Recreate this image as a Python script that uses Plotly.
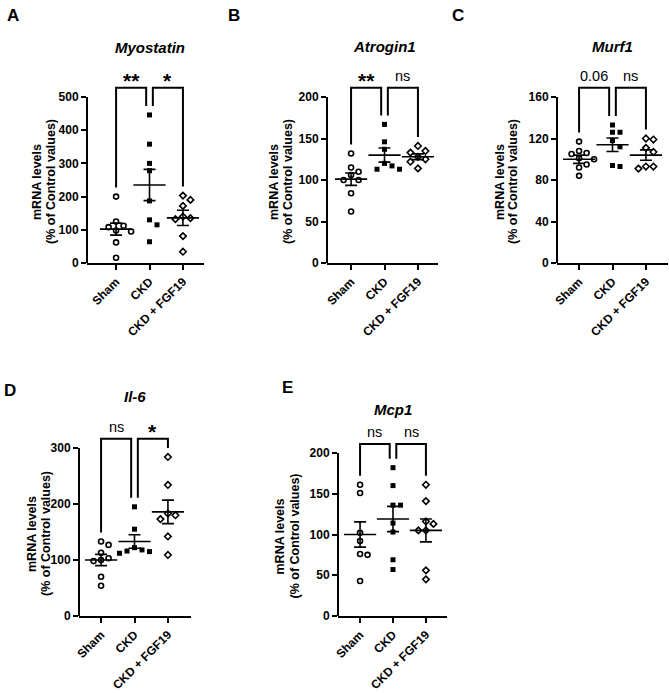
import plotly.graph_objects as go

W, H = 669, 693
FONT = "Arial, 'Liberation Sans', sans-serif"

groups = ["Sham", "CKD", "CKD + FGF19"]

# values (% of control)
myostatin_sham = [200, 125, 112, 108, 98, 95, 62, 16]
myostatin_ckd = [446, 358, 300, 278, 187, 130, 115, 64]
myostatin_fgf19 = [203, 190, 172, 140, 135, 132, 81, 34]
myostatin_mean = [102, 235, 136]
myostatin_sem = [18, 47, 23]

atrogin1_sham = [132, 115, 110, 106, 100, 100, 84, 62]
atrogin1_ckd = [167, 146, 137, 120, 117, 113, 113]
atrogin1_fgf19 = [141, 135, 133, 128, 125, 122, 114]
atrogin1_mean = [101, 130, 128]
atrogin1_sem = [7.5, 8.5, 3.5]

murf1_sham = [117, 108, 106, 105, 101, 100, 95, 92, 84]
murf1_ckd = [133, 126, 126, 118, 112, 94, 93]
murf1_fgf19 = [120, 119, 111, 107, 93, 93, 91]
murf1_mean = [100, 114, 104]
murf1_sem = [4, 6.5, 5]

il6_sham = [133, 127, 113, 103, 100, 98, 70, 54]
il6_ckd = [195, 155, 122, 118, 116, 115, 112]
il6_fgf19 = [284, 234, 183, 180, 173, 142, 109]
il6_mean = [100, 133, 186]
il6_sem = [10, 12, 21]

mcp1_sham = [161, 151, 102, 92, 76, 75, 43]
mcp1_ckd = [182, 160, 136, 136, 114, 103, 69, 57]
mcp1_fgf19 = [161, 141, 116, 113, 105, 105, 56, 45]
mcp1_mean = [100, 119, 105]
mcp1_sem = [15.5, 15.5, 14]

titles = ["Myostatin", "Atrogin1", "Murf1", "Il-6", "Mcp1"]
letters = ["A", "B", "C", "D", "E"]
sig_labels = [["**", "*"], ["**", "ns"], ["0.06", "ns"], ["ns", "*"], ["ns", "ns"]]
y_max = [500, 200, 160, 300, 200]
y_step = [100, 50, 40, 100, 50]

data = [
    (myostatin_sham, myostatin_ckd, myostatin_fgf19, myostatin_mean, myostatin_sem),
    (atrogin1_sham, atrogin1_ckd, atrogin1_fgf19, atrogin1_mean, atrogin1_sem),
    (murf1_sham, murf1_ckd, murf1_fgf19, murf1_mean, murf1_sem),
    (il6_sham, il6_ckd, il6_fgf19, il6_mean, il6_sem),
    (mcp1_sham, mcp1_ckd, mcp1_fgf19, mcp1_mean, mcp1_sem),
]

# pixel layout of each panel: axis left/right, y=0 row, top tick row, x range,
# title row, letter pos, y-title column centres
panels = [
    dict(x0=87, x1=204, y0=263, yt=97, xr=(-0.87, 2.63), tpy=48, let=(13, 15), cols=(37, 51)),
    dict(x0=327, x1=438, y0=263, yt=97, xr=(-0.72, 2.60), tpy=46, let=(234, 15), cols=(274, 288)),
    dict(x0=557, x1=668, y0=263, yt=97, xr=(-0.66, 2.66), tpy=46, let=(458, 15), cols=(500, 513)),
    dict(x0=79, x1=191, y0=616, yt=448, xr=(-0.66, 2.69), tpy=396, let=(10, 390), cols=(32, 46)),
    dict(x0=338, x1=447, y0=616, yt=453, xr=(-0.67, 2.64), tpy=409, let=(287, 387), cols=(279, 294)),
]

symbols = [
    dict(symbol="circle-open", size=5, line=dict(width=1.6, color="black"), color="black"),
    dict(symbol="square", size=5, color="black"),
    dict(symbol="diamond-open", size=5, line=dict(width=1.6, color="black"), color="black"),
]


def swarm(vals, ppu_y, ppu_x, dmin=7.0, step=7.5):
    placed = []
    res = [0.0] * len(vals)
    order = sorted(range(len(vals)), key=lambda i: -vals[i])
    for i in order:
        y = vals[i] * ppu_y
        x = 0.0
        for c in [0, 1, -1, 2, -2, 3, -3, 4, -4]:
            x = c * step
            if all((x - px) ** 2 + (y - py) ** 2 >= dmin ** 2 for px, py in placed):
                break
        placed.append((x, y))
        res[i] = x / ppu_x
    return res


fig = go.Figure()
layout = dict(width=W, height=H, margin=dict(l=0, r=0, t=0, b=0, autoexpand=False),
              paper_bgcolor="white", plot_bgcolor="white", showlegend=False,
              font=dict(family=FONT, color="black"))
annotations = []
shapes = []

for k, (p, d) in enumerate(zip(panels, data)):
    n = "" if k == 0 else str(k + 1)
    xa, ya = "x" + n, "y" + n
    ymax = y_max[k]
    ppu_y = (p["y0"] - p["yt"]) / ymax
    ppu_x = (p["x1"] - p["x0"]) / (p["xr"][1] - p["xr"][0])
    ytop_val = 1.2 * ymax
    top_px = p["y0"] - ytop_val * ppu_y

    layout["xaxis" + n] = dict(
        domain=[p["x0"] / W, p["x1"] / W], range=list(p["xr"]), anchor=ya,
        tickvals=[0, 1, 2], ticktext=groups, tickangle=-45, automargin=False,
        showline=True, linewidth=2, linecolor="black", mirror=False,
        ticks="outside", ticklen=5, tickwidth=2, tickcolor="black",
        showgrid=False, zeroline=False, fixedrange=True,
        tickfont=dict(family=FONT, size=12, weight="bold", color="black"))
    layout["yaxis" + n] = dict(
        domain=[1 - p["y0"] / H, 1 - top_px / H], range=[0, ytop_val], anchor=xa,
        tickvals=list(range(0, ymax + 1, y_step[k])), automargin=False,
        showline=False, ticks="outside", ticklen=5, tickwidth=2, tickcolor="black",
        showgrid=False, zeroline=False, fixedrange=True,
        tickfont=dict(family=FONT, size=12, weight="bold", color="black"))

    # y axis line only up to the last tick
    shapes.append(dict(type="line", xref=xa + " domain", yref=ya, x0=0, x1=0, y0=0, y1=ymax,
                       line=dict(color="black", width=2)))

    # mean +/- SEM
    fig.add_trace(go.Scatter(
        x=[0, 1, 2], y=d[3], xaxis=xa, yaxis=ya, mode="markers",
        marker=dict(symbol="line-ew", size=23, line=dict(width=1.6, color="black")),
        error_y=dict(type="data", array=d[4], visible=True, width=6, thickness=1.6, color="black"),
        hoverinfo="skip"))

    # individual animals
    for g in range(3):
        vals = d[g]
        offs = swarm(vals, ppu_y, ppu_x)
        fig.add_trace(go.Scatter(
            x=[g + o for o in offs], y=vals, xaxis=xa, yaxis=ya, mode="markers",
            marker=symbols[g], cliponaxis=False))

    # significance brackets
    gap = 9 / ppu_y
    top = 1.055 * ymax
    legs = [max(d[g]) + gap for g in range(3)]
    fig.add_trace(go.Scatter(x=[0, 0, 0.9, 0.9], y=[legs[0], top, top, legs[1]],
                             xaxis=xa, yaxis=ya, mode="lines",
                             line=dict(color="black", width=2), hoverinfo="skip"))
    fig.add_trace(go.Scatter(x=[1.1, 1.1, 2, 2], y=[legs[1], top, top, legs[2]],
                             xaxis=xa, yaxis=ya, mode="lines",
                             line=dict(color="black", width=2), hoverinfo="skip"))
    for lab, xc in zip(sig_labels[k], [0.45, 1.55]):
        star = "*" in lab
        annotations.append(dict(
            x=xc, y=top, xref=xa, yref=ya, text=lab, showarrow=False,
            yanchor="middle", yshift=7 if star else 12,
            font=dict(family=FONT, size=21 if star else 14.5,
                      weight="bold" if star else "normal", color="black")))

    # gene title
    annotations.append(dict(
        x=1, y=1 - p["tpy"] / H, xref=xa, yref="paper", text=titles[k], showarrow=False,
        yanchor="middle", font=dict(family=FONT, size=15, weight="bold", style="italic", color="black")))
    # panel letter
    annotations.append(dict(
        x=p["let"][0] / W, y=1 - p["let"][1] / H, xref="paper", yref="paper", text=letters[k],
        showarrow=False, xanchor="center", yanchor="middle",
        font=dict(family=FONT, size=17, weight="bold", color="black")))
    # y axis title, two lines
    yc = 1 - ((p["y0"] + p["yt"]) / 2 + 2) / H
    for txt, cx in zip(["mRNA levels", "(% of Control values)"], p["cols"]):
        annotations.append(dict(
            x=cx / W, y=yc, xref="paper", yref="paper", text=txt, textangle=-90,
            showarrow=False, xanchor="center", yanchor="middle",
            font=dict(family=FONT, size=12.5, weight="bold", color="black")))

layout["annotations"] = annotations
layout["shapes"] = shapes
fig.update_layout(**layout)

fig.write_html("out.html", config={"displayModeBar": False},
               post_script="document.body.style.margin='0px';")
